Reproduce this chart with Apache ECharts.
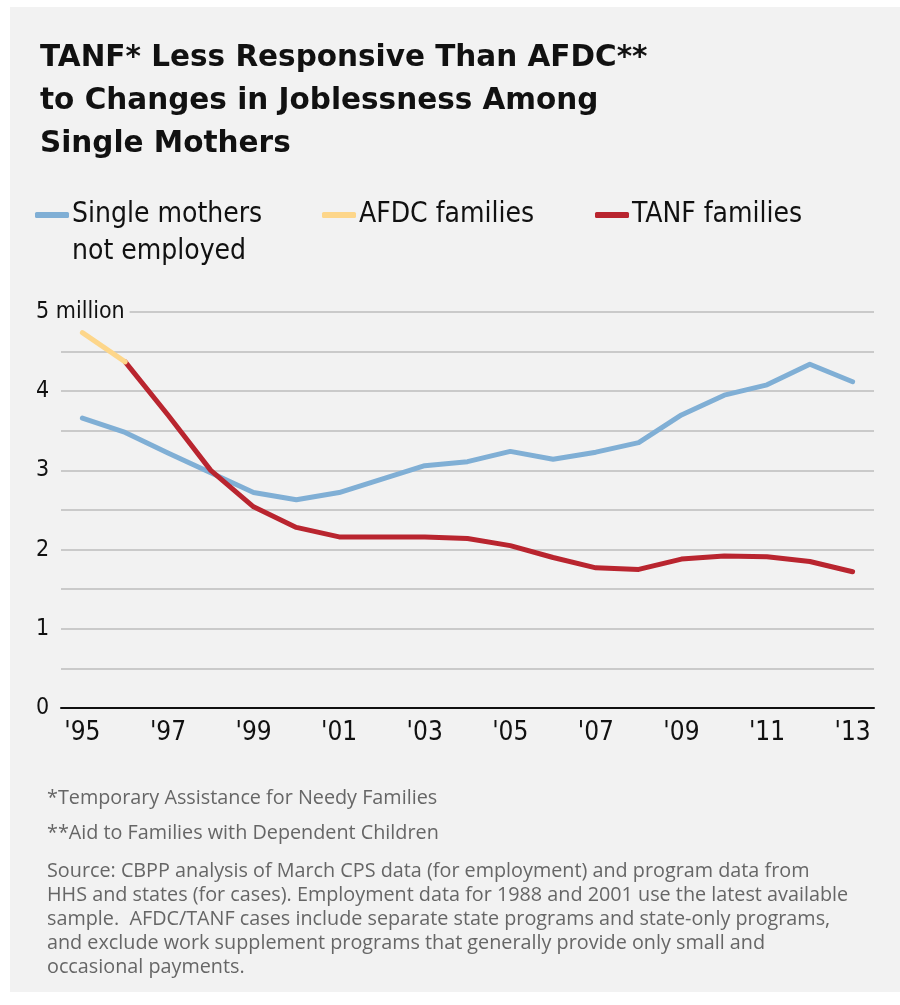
<!DOCTYPE html>
<html>
<head>
<meta charset="utf-8">
<script src="https://cdn.jsdelivr.net/npm/echarts@6/dist/echarts.min.js"></script>
<style>
html,body{margin:0;padding:0;background:#ffffff;}
#chart{width:900px;height:1005px;}
</style>
</head>
<body>
<div id="chart"></div>
<script>
const years = ['1995','1996','1997','1998','1999','2000','2001','2002','2003','2004','2005','2006','2007','2008','2009','2010','2011','2012','2013'];
const yearLabels = ["'95","'96","'97","'98","'99","'00","'01","'02","'03","'04","'05","'06","'07","'08","'09","'10","'11","'12","'13"];
const singleMothersNotEmployed = [3.66,3.48,3.22,2.97,2.72,2.63,2.72,2.89,3.06,3.11,3.24,3.14,3.23,3.35,3.70,3.95,4.08,4.34,4.12];
const afdcFamilies = [4.74,4.37,null,null,null,null,null,null,null,null,null,null,null,null,null,null,null,null,null];
const tanfFamilies = [null,4.37,3.70,3.00,2.54,2.28,2.16,2.16,2.16,2.14,2.05,1.90,1.77,1.75,1.88,1.92,1.91,1.85,1.72];
const seriesNames = ['Single mothers not employed','AFDC families','TANF families'];
const footnotes = [
  '*Temporary Assistance for Needy Families',
  '**Aid to Families with Dependent Children'
];
const sourceLines = [
  'Source: CBPP analysis of March CPS data (for employment) and program data from',
  'HHS and states (for cases). Employment data for 1988 and 2001 use the latest available',
  'sample.  AFDC/TANF cases include separate state programs and state-only programs,',
  'and exclude work supplement programs that generally provide only small and',
  'occasional payments.'
];

const chart = echarts.init(document.getElementById('chart'));
const BLUE = '#80afd5', YELLOW = '#fdd68a', RED = '#b9252f';
const condensed = '"Liberation Sans Narrow", "DejaVu Sans Condensed", sans-serif';
const noteFont = '19.8px "Open Sans", "Liberation Sans", sans-serif';

function legendCfg(name, left, color, label) {
  return {
    left: left, top: 194,
    data: [{name: name, icon: 'roundRect', itemStyle: {color: color}}],
    itemWidth: 34, itemHeight: 6,
    selectedMode: false,
    formatter: () => label,
    textStyle: {fontFamily: condensed, fontSize: 28, color: '#111', lineHeight: 32, padding: [0,0,0,-2]}
  };
}

const graphics = [
  {type: 'rect', left: 10, top: 7, shape: {width: 890, height: 985}, style: {fill: '#f2f2f2'}, z: -10, silent: true},
  {type: 'text', left: 72, top: 238, style: {text: 'not employed', font: '28px ' + condensed, fill: '#111'}}
];
footnotes.forEach((t, i) => {
  graphics.push({type: 'text', left: 47, top: 788 + i * 35.5, style: {text: t, font: noteFont, fill: '#666'}});
});
sourceLines.forEach((t, i) => {
  graphics.push({type: 'text', left: 47, top: 861 + i * 24, style: {text: t, font: noteFont, fill: '#666'}});
});

chart.setOption({
  backgroundColor: '#ffffff',
  animation: false,
  title: {
    text: 'TANF* Less Responsive Than AFDC**\nto Changes in Joblessness Among\nSingle Mothers',
    left: 35, top: 32,
    textStyle: {fontFamily: '"DejaVu Sans", sans-serif', fontWeight: 'bold', fontSize: 29.5, lineHeight: 43, color: '#111'}
  },
  legend: [
    legendCfg(seriesNames[0], 30, BLUE, 'Single mothers'),
    legendCfg(seriesNames[1], 317, YELLOW, 'AFDC families'),
    legendCfg(seriesNames[2], 590, RED, 'TANF families')
  ],
  graphic: graphics,
  grid: {left: 61, right: 26, top: 312, bottom: 297, containLabel: false},
  xAxis: {
    type: 'category',
    data: years,
    boundaryGap: true,
    axisLine: {lineStyle: {color: '#111', width: 2}},
    axisTick: {alignWithLabel: true, inside: true, length: 9, interval: 0, lineStyle: {color: '#111', width: 1.5}},
    axisLabel: {
      interval: 1, margin: 12,
      formatter: (v, i) => yearLabels[i],
      fontFamily: condensed, fontSize: 26, color: '#111'
    },
    splitLine: {show: false}
  },
  yAxis: {
    type: 'value', min: 0, max: 5, interval: 0.5,
    axisLine: {show: false}, axisTick: {show: false},
    axisLabel: {
      align: 'left', margin: 25,
      formatter: v => (v === 5 ? '5 million' : (Number.isInteger(v) ? String(v) : '')),
      fontFamily: condensed, fontSize: 23, color: '#111',
      backgroundColor: '#f2f2f2', padding: [0, 5, 0, 0]
    },
    splitLine: {lineStyle: {color: '#bdbdbd', width: 1.5}}
  },
  series: [
    {name: seriesNames[0], type: 'line', data: singleMothersNotEmployed, symbol: 'none', color: BLUE,
     lineStyle: {color: BLUE, width: 5, cap: 'round', join: 'round'}, z: 2},
    {name: seriesNames[2], type: 'line', data: tanfFamilies, symbol: 'none', color: RED,
     lineStyle: {color: RED, width: 5, cap: 'round', join: 'round'}, z: 3},
    {name: seriesNames[1], type: 'line', data: afdcFamilies, symbol: 'none', color: YELLOW,
     lineStyle: {color: YELLOW, width: 5, cap: 'round', join: 'round'}, z: 4}
  ]
});
</script>
</body>
</html>
